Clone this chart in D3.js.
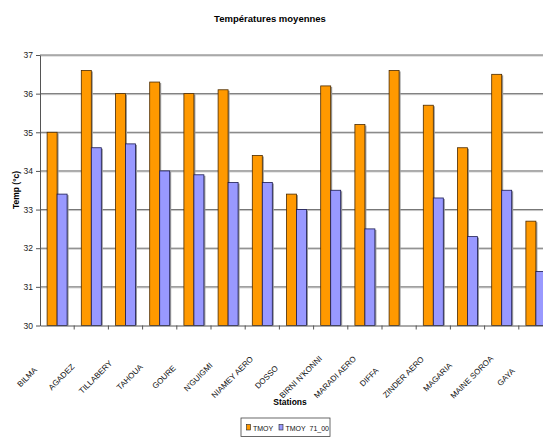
<!DOCTYPE html>
<html>
<head>
<meta charset="utf-8">
<script src="https://cdn.jsdelivr.net/npm/d3@7"></script>
<style>
body{margin:0;background:#fff;}
svg{display:block;font-family:Arial,"Liberation Sans",sans-serif;}
</style>
</head>
<body>
<svg id="myGraph" width="543" height="437"></svg>
<script>
// données
var stations = ["BILMA","AGADEZ","TILLABERY","TAHOUA","GOURE","N'GUIGMI","NIAMEY AERO","DOSSO",
  "BIRNI N'KONNI","MARADI AERO","DIFFA","ZINDER AERO","MAGARIA","MAINE SOROA","GAYA"];
var seriesNames = ["TMOY","TMOY  71_00"];
var tmoy = [35.0,36.6,36.0,36.3,36.0,36.1,34.4,33.4,36.2,35.2,36.6,35.7,34.6,36.5,32.7];
var tmoy7100 = [33.4,34.6,34.7,34.0,33.9,33.7,33.7,33.0,33.5,32.5,null,33.3,32.3,33.5,31.4];
var yTicks = [30,31,32,33,34,35,36,37];
var colors = ["#FF9900","#9999FF"];

var svg = d3.select("#myGraph");
var mLeft = 40, mTop = 55, mBottom = 325.5, step = 34.2;

var x = d3.scaleBand().domain(stations).range([mLeft, mLeft + step*stations.length]).padding(0);
var x1 = d3.scaleBand().domain(seriesNames).range([0, x.bandwidth()]).paddingInner(0).paddingOuter(0.71);
var y = d3.scaleLinear().domain([30,37]).range([mBottom, mTop]);

var rows = stations.map(function(s,i){
  return {station:s, values:[{k:seriesNames[0], v:tmoy[i]},{k:seriesNames[1], v:tmoy7100[i]}]};
});

// titre
svg.append("text").attr("x",270).attr("y",22).attr("text-anchor","middle")
  .style("font-size","9.5px").style("font-weight","bold").text("Températures moyennes");

// grille
svg.append("g").selectAll("line").data(yTicks.slice(1)).enter().append("line")
  .attr("x1",mLeft).attr("x2",543)
  .attr("y1",function(d){return y(d)+1;}).attr("y2",function(d){return y(d)+1;})
  .attr("stroke","#c8c8c8").attr("stroke-width",1);
svg.append("g").selectAll("line").data(yTicks.slice(1)).enter().append("line")
  .attr("x1",mLeft).attr("x2",543)
  .attr("y1",function(d){return y(d);}).attr("y2",function(d){return y(d);})
  .attr("stroke","#6e6e6e").attr("stroke-width",1);

// barres
var g = svg.append("g").selectAll("g").data(rows).enter().append("g")
  .attr("transform",function(d){return "translate("+x(d.station)+",0)";});
g.selectAll("rect.shadow").data(function(d){return d.values.filter(function(e){return e.v!=null;});})
  .enter().append("rect").attr("class","shadow")
  .attr("x",function(d){return x1(d.k)+1.5;})
  .attr("y",function(d){return y(d.v)+1;})
  .attr("width",x1.bandwidth())
  .attr("height",function(d){return mBottom-y(d.v)-1;})
  .attr("fill","#9a9a9a");
g.selectAll("rect.bar").data(function(d){return d.values.filter(function(e){return e.v!=null;});})
  .enter().append("rect").attr("class","bar")
  .attr("x",function(d){return x1(d.k);})
  .attr("y",function(d){return y(d.v);})
  .attr("width",x1.bandwidth())
  .attr("height",function(d){return mBottom-y(d.v);})
  .attr("fill",function(d){return colors[seriesNames.indexOf(d.k)];})
  .attr("stroke",function(d){return d.k==seriesNames[0]?"#4a2a00":"#1a1a50";})
  .attr("stroke-width",0.8);

// axe Y
var yAxis = svg.append("g").attr("transform","translate("+mLeft+",0)")
  .call(d3.axisLeft(y).tickValues(yTicks).tickFormat(d3.format("d")).tickSize(4).tickSizeOuter(0).tickPadding(3));
yAxis.select(".domain").attr("stroke","#555");
yAxis.selectAll(".tick line").attr("stroke","#555");
yAxis.selectAll("text").style("font-size","8.5px").attr("fill","#222");

// axe X
var xAxis = svg.append("g").attr("transform","translate(0,"+mBottom+")")
  .call(d3.axisBottom(x).tickValues([]).tickSizeOuter(0));
xAxis.select(".domain").attr("stroke","#555");
xAxis.selectAll("line.tk").data(stations).enter().append("line").attr("class","tk")
  .attr("x1",function(d){return x(d)+x.bandwidth();}).attr("x2",function(d){return x(d)+x.bandwidth();})
  .attr("y1",0).attr("y2",4).attr("stroke","#555");

// étiquettes centrées sous chaque station, inclinées
svg.append("g").selectAll("text").data(stations).enter().append("text")
  .attr("transform",function(d){return "translate("+(x(d)+x.bandwidth()/2-28)+",379) rotate(-45)";})
  .attr("text-anchor","middle")
  .style("font-size","8px").attr("fill","#111")
  .text(function(d){return d;});

// titres des axes
svg.append("text").attr("transform","translate(19,190) rotate(-90)").attr("text-anchor","middle")
  .style("font-size","8.5px").style("font-weight","bold").text("Temp (°c)");
svg.append("text").attr("x",290).attr("y",405).attr("text-anchor","middle")
  .style("font-size","8.5px").style("font-weight","bold").text("Stations");

// légende
var leg = svg.append("g");
leg.append("rect").attr("x",241).attr("y",418).attr("width",89).attr("height",18.5)
  .attr("fill","#fff").attr("stroke","#444").attr("stroke-width",0.8);
var items = leg.selectAll("g").data(seriesNames).enter().append("g")
  .attr("transform",function(d,i){return "translate("+(246.5+i*32.5)+",0)";});
items.append("rect").attr("x",0).attr("y",424.5).attr("width",4).attr("height",5.5)
  .attr("fill",function(d,i){return colors[i];}).attr("stroke","#222").attr("stroke-width",0.6);
items.append("text").attr("x",6.5).attr("y",430.5).style("font-size","7px").attr("fill","#111")
  .text(function(d){return d;}).attr("xml:space","preserve").style("white-space","pre");
</script>
</body>
</html>
